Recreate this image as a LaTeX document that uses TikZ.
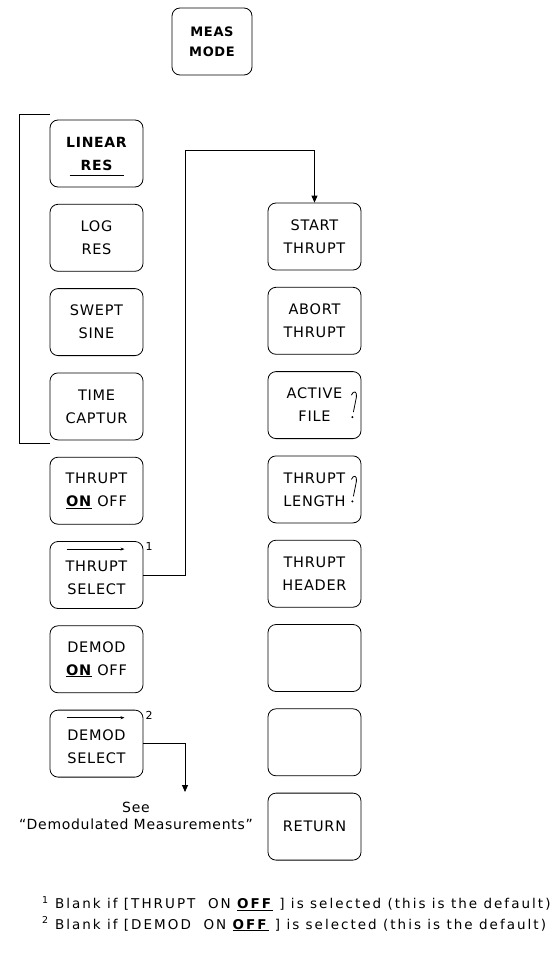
\documentclass[tikz,border=0pt]{standalone}
\usepackage{fontspec}
\setmainfont[LetterSpace=5]{DejaVu Sans}
\usetikzlibrary{positioning,arrows.meta}
\tikzset{
  softkey/.style={draw, rounded corners=8pt, minimum width=93pt, minimum height=67pt,
    align=center, inner sep=2pt, line width=0.8pt, font=\fontsize{14.5}{23}\selectfont},
  link/.style={line width=0.8pt},
  tip/.style={-{Triangle[length=7pt,width=6pt]}},
  overarrow/.style={line width=0.7pt, -{Stealth[length=4pt,width=3pt]}},
}
\newcommand{\entrymark}[1]{%
  \draw[link] ([shift={(-10pt,10pt)}]#1.east) .. controls ([shift={(-8pt,15pt)}]#1.east) and ([shift={(-4pt,14pt)}]#1.east) .. ([shift={(-5pt,8pt)}]#1.east)
    -- ([shift={(-8pt,-7pt)}]#1.east);
  \fill ([shift={(-9pt,-12pt)}]#1.east) circle (1.1pt);}
\begin{document}
\begin{tikzpicture}[x=1pt, y=-1pt]
  \useasboundingbox (0,0) rectangle (553,963);
  % hardkey
  \node[softkey, minimum width=80pt, font=\bfseries\fontsize{13}{20}\selectfont] (meas) at (212,41.5) {MEAS\\MODE};
  % measurement softkeys
  \node[softkey, font=\bfseries\fontsize{14}{23}\selectfont] (linres) at (96.5,153.5) {LINEAR\\RES};
  \node[softkey, below=16.5pt of linres] (logres) {LOG\\RES};
  \node[softkey, below=16.5pt of logres] (swept) {SWEPT\\SINE};
  \node[softkey, below=16.5pt of swept] (timecap) {TIME\\CAPTUR};
  \node[softkey, below=16.5pt of timecap] (thruptonoff) {THRUPT\\\underline{\textbf{ON}} OFF};
  \node[softkey, below=16.5pt of thruptonoff] (thruptsel) {\\[-6pt]THRUPT\\SELECT};
  \node[softkey, below=16.5pt of thruptsel] (demodonoff) {DEMOD\\\underline{\textbf{ON}} OFF};
  \node[softkey, below=16.5pt of demodonoff] (demodsel) {\\[-6pt]DEMOD\\SELECT};
  % throughput menu
  \node[softkey] (start) at (314.5,236.5) {START\\THRUPT};
  \node[softkey, below=16.5pt of start] (abort) {ABORT\\THRUPT};
  \node[softkey, below=16.5pt of abort] (active) {ACTIVE\\FILE};
  \node[softkey, below=16.5pt of active] (length) {THRUPT\\LENGTH};
  \node[softkey, below=16.5pt of length] (header) {THRUPT\\HEADER};
  \node[softkey, below=16.5pt of header] (blanka) {};
  \node[softkey, below=16.5pt of blanka] (blankb) {};
  \node[softkey, below=16.5pt of blankb] (ret) {RETURN};
  % marks inside keys
  \draw[link] ([shift={(-27pt,12pt)}]linres.south) -- ++(54pt,0);
  \draw[overarrow] ([shift={(-30pt,-8pt)}]thruptsel.north) -- ++(58pt,0);
  \draw[overarrow] ([shift={(-30pt,-8pt)}]demodsel.north) -- ++(58pt,0);
  \entrymark{active}
  \entrymark{length}
  \node[font=\fontsize{11}{11}\selectfont, anchor=north west, inner sep=1pt] (note1) at ([shift={(1pt,0pt)}]thruptsel.north east) {1};
  \node[font=\fontsize{11}{11}\selectfont, anchor=north west, inner sep=1pt] (note2) at ([shift={(1pt,0pt)}]demodsel.north east) {2};
  % bracket
  \draw[link] ([yshift=5pt]linres.north west) -- ++(-30pt,0) |- ([yshift=-3pt]timecap.south west);
  % connectors
  \coordinate (upbend) at (185,150);
  \coordinate (seeend) at (185,792);
  \draw[link, tip] (thruptsel.east) -| (upbend) -| (start.north);
  \draw[link, tip] (demodsel.east) -| (seeend);
  \node[align=center, font=\fontsize{14}{17}\selectfont] (see) at (136,816) {See\\``Demodulated Measurements''};
  % footnotes
  \node[anchor=west, inner sep=0pt, font=\fontsize{13.5}{14}\selectfont\addfontfeature{LetterSpace=15}] (foot1) at (42,904)
    {\textsuperscript{1} Blank if [THRUPT\ \ ON \underline{\textbf{OFF}} ] is selected (this is the default)};
  \node[anchor=west, inner sep=0pt, font=\fontsize{13.5}{14}\selectfont\addfontfeature{LetterSpace=15}] (foot2) at (42,924)
    {\textsuperscript{2} Blank if [DEMOD\ \ ON \underline{\textbf{OFF}} ] is selected (this is the default)};
\end{tikzpicture}
\end{document}
